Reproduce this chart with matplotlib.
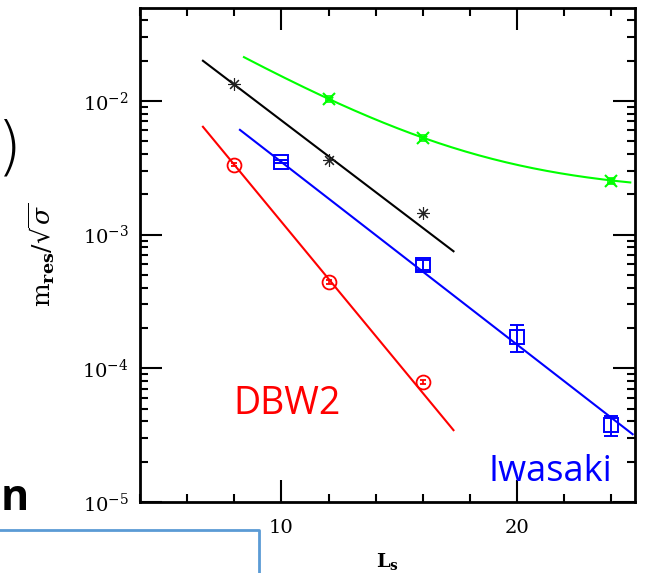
import numpy as np
import matplotlib
matplotlib.use("Agg")
import matplotlib.pyplot as plt
from matplotlib.lines import Line2D
from matplotlib.ticker import LogLocator, MultipleLocator, NullFormatter, FixedLocator, FixedFormatter

plt.rcParams['mathtext.fontset'] = 'dejavuserif'
plt.rcParams['font.family'] = ['DejaVu Serif']

# ---- data ----
L_dbw2 = [8, 12, 16]
m_dbw2 = [3.33e-3, 4.4e-4, 7.9e-5]
e_dbw2 = [1.0e-4, 1.5e-5, 3e-6]

L_iwa = [10, 16, 20, 24]
m_iwa = [3.5e-3, 5.9e-4, 1.72e-4, 3.75e-5]
e_iwa = [1.0e-4, 5e-5, 3.9e-5, 6.3e-6]

L_blk = [8, 12, 16]
m_blk = [1.34e-2, 3.63e-3, 1.44e-3]

L_grn = [12, 16, 24]
m_grn = [1.035e-2, 5.3e-3, 2.53e-3]
e_grn = [3e-4, 1.5e-4, 1e-4]

# fit lines: log10(m) = a + b*L over given L-range
fit_dbw2 = (-0.771, -0.2134); rng_dbw2 = (6.67, 17.3)
fit_iwa = (-1.092, -0.1366); rng_iwa = (8.24, 24.9)
fit_blk = (-0.807, -0.134); rng_blk = (6.67, 17.3)
# green: m = A*exp(-c*L) + B
fit_grn = (0.136, 0.233, 2.03e-3); rng_grn = (8.41, 24.8)

x_ticks = [10, 20]
y_ticks = [1e-5, 1e-4, 1e-3, 1e-2]
y_ticklabels = [r'$10^{-5}$', r'$10^{-4}$', r'$10^{-3}$', r'$10^{-2}$']

W, H = 646, 573
fig = plt.figure(figsize=(W/100, H/100), dpi=100)
ax = fig.add_axes([140/W, 1-502/H, (635-140)/W, (502-8)/H])
ax.set_yscale('log')
ax.set_xlim(4, 25)
ax.set_ylim(1e-5, 0.0494)

def linfit(fit, rng):
    L = np.linspace(rng[0], rng[1], 50)
    return L, 10**(fit[0] + fit[1]*L)

L, y = linfit(fit_dbw2, rng_dbw2); ax.plot(L, y, color='#ff0000', lw=1.5)
L, y = linfit(fit_iwa, rng_iwa); ax.plot(L, y, color='#0000ff', lw=1.5)
L, y = linfit(fit_blk, rng_blk); ax.plot(L, y, color='black', lw=1.5)
L = np.linspace(rng_grn[0], rng_grn[1], 200)
ax.plot(L, fit_grn[0]*np.exp(-fit_grn[1]*L) + fit_grn[2], color='#00ff00', lw=1.5)

ax.errorbar(L_dbw2, m_dbw2, yerr=e_dbw2, fmt='o', ms=10, mfc='none', mec='#ff0000',
            mew=1.3, ecolor='#ff0000', elinewidth=1.2, capsize=2)
ax.errorbar(L_iwa, m_iwa, yerr=e_iwa, fmt='s', ms=10, mfc='none', mec='#0000ff',
            mew=1.4, ecolor='#0000ff', elinewidth=1.4, capsize=5, capthick=1.4)
ax.plot(L_blk, m_blk, ls='none', marker=(8, 2, 0), ms=9, mec='#222222', mew=0.8)
ax.errorbar(L_grn, m_grn, yerr=e_grn, fmt='none', ecolor='#00ff00', elinewidth=1.2, capsize=3)
ax.plot(L_grn, m_grn, ls='none', marker='x', ms=9, mec='#00ff00', mew=1.5)
ax.plot(L_grn, m_grn, ls='none', marker='s', ms=5, mfc='none', mec='#00ff00', mew=1.2)

for s in ax.spines.values():
    s.set_linewidth(2)
ax.xaxis.set_major_locator(FixedLocator(x_ticks))
ax.xaxis.set_minor_locator(MultipleLocator(2))
ax.yaxis.set_major_locator(FixedLocator(y_ticks))
ax.yaxis.set_major_formatter(FixedFormatter(y_ticklabels))
ax.yaxis.set_minor_locator(LogLocator(base=10, subs=np.arange(2, 10), numticks=20))
ax.yaxis.set_minor_formatter(NullFormatter())
ax.tick_params(which='both', direction='in', top=True, right=True, width=1.5,
               labelsize=14, pad=8)
ax.tick_params(which='major', length=16)
ax.tick_params(which='minor', length=6)
ax.tick_params(axis='x', which='major', pad=12)

ax.set_xlabel(r'$\mathbf{L_s}$', fontsize=14, labelpad=10)
ax.set_ylabel(r'$\mathrm{m}_{\mathbf{res}}/\sqrt{\sigma}$', fontsize=18, labelpad=18)

ax.text(233/W, 1-404/H, 'DBW2', transform=fig.transFigure, color='#ff0000',
        fontsize=27, family='Open Sans', va='center', ha='left')
ax.text(489/W, 1-472/H, 'Iwasaki', transform=fig.transFigure, color='#0000ff',
        fontsize=26, family='Open Sans', va='center', ha='left')

# slide fragments
fig.text(9/W, 1-150/H, ')', fontsize=46, family='DejaVu Sans', weight='light',
         ha='center', va='center')
fig.text(1/W, 1-510/H, 'n', fontsize=31, family='Open Sans', weight='bold',
         ha='left', va='baseline')
fig.add_artist(Line2D([0, 259/W, 259/W], [1-530/H, 1-530/H, 0], transform=fig.transFigure,
                      color='#5b9bd5', lw=2))

fig.savefig('out.png', dpi=100)
